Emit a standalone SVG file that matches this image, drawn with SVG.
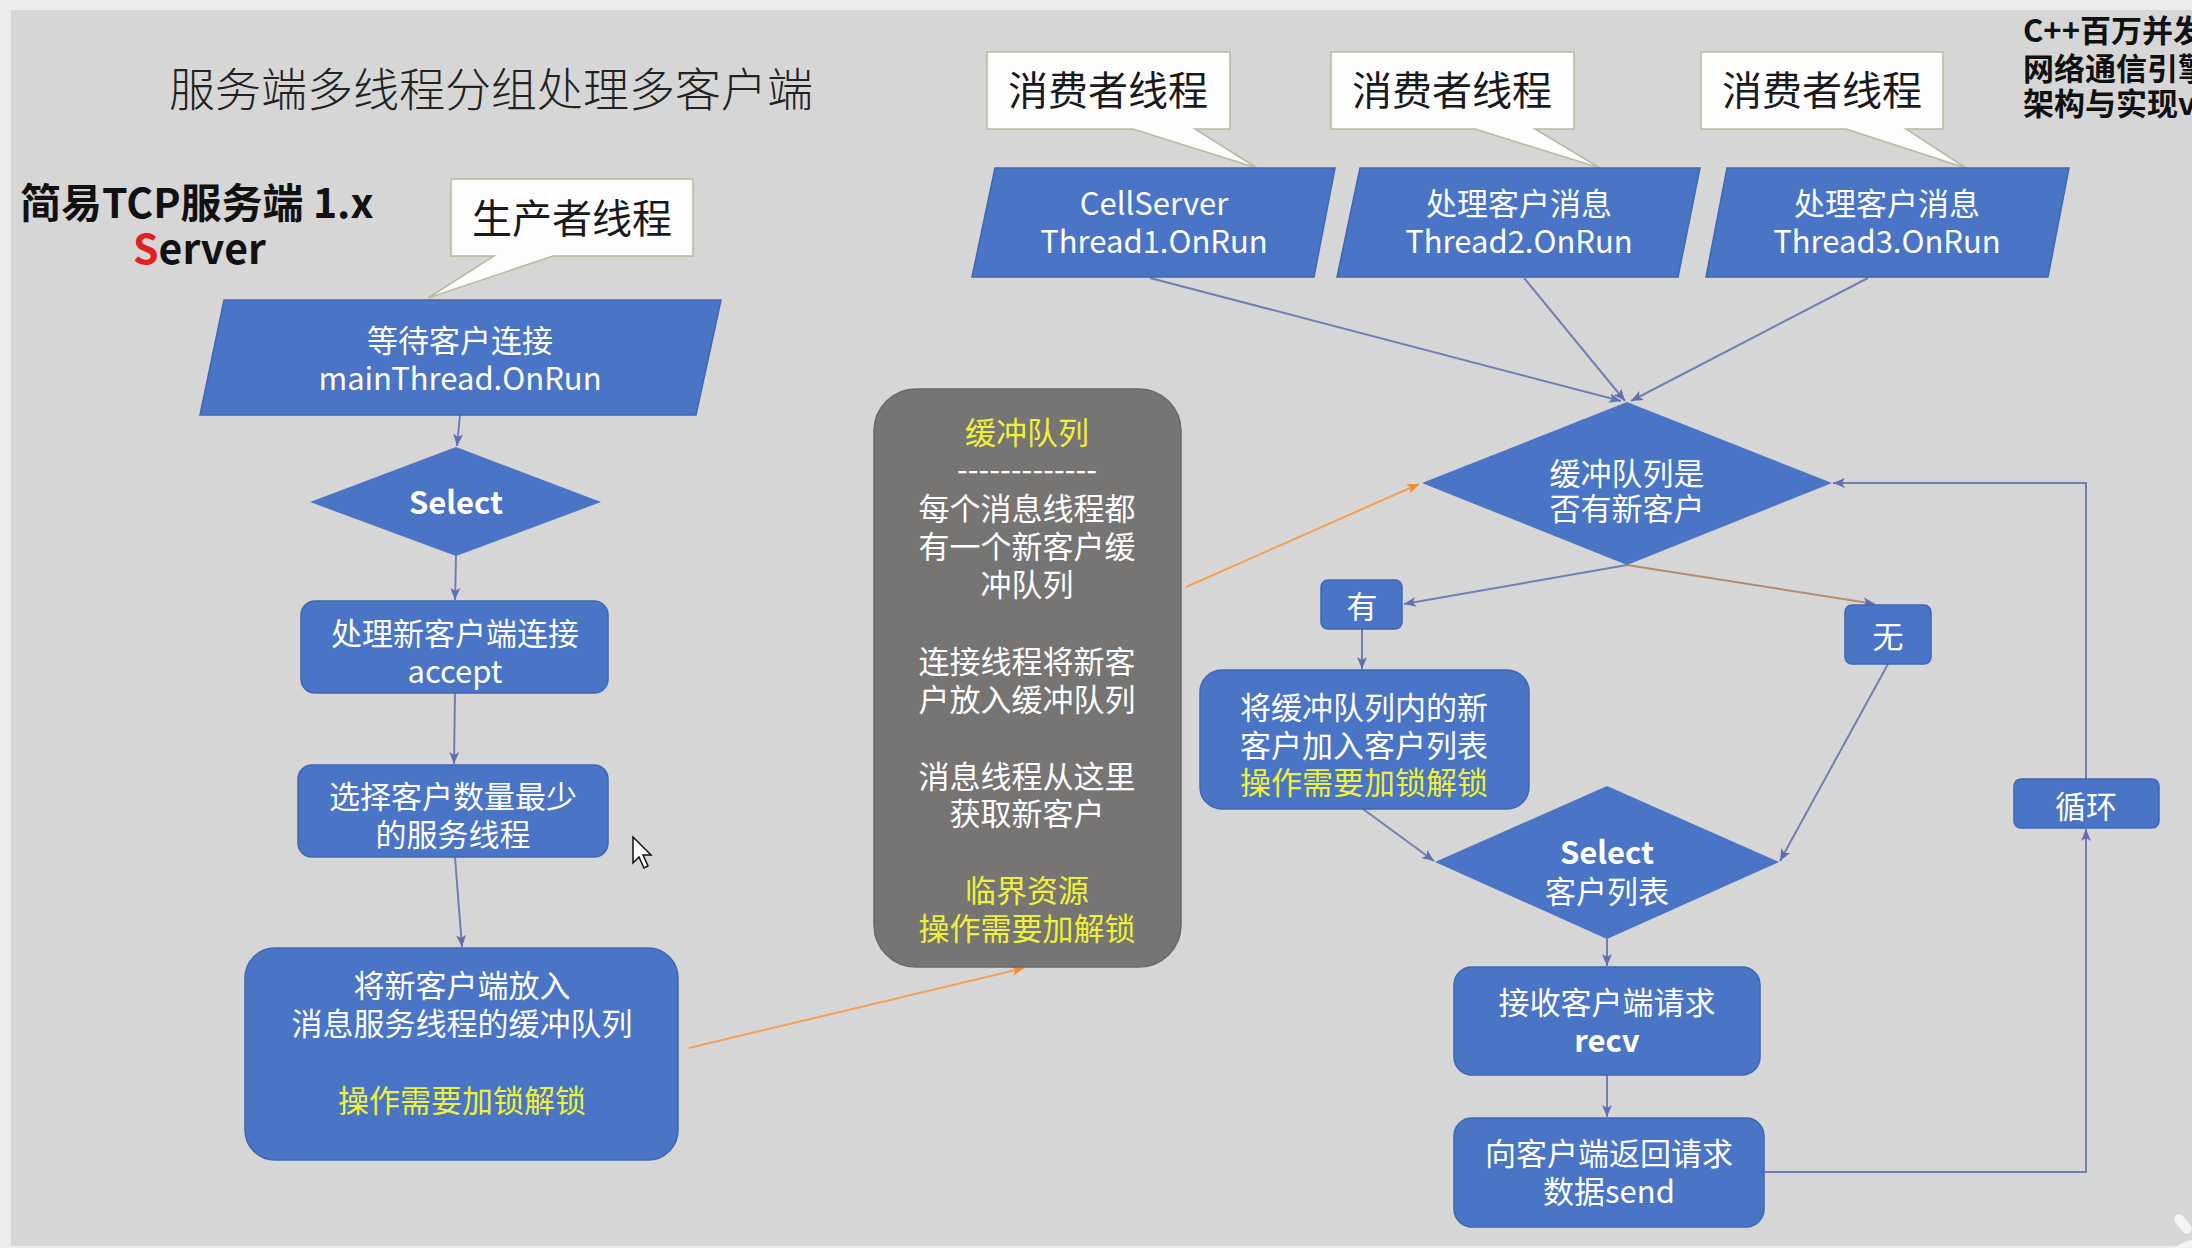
<svg xmlns="http://www.w3.org/2000/svg" width="2192" height="1248" viewBox="0 0 2192 1248">
<style>
text{font-family:"Noto Sans CJK SC","Noto Sans",sans-serif;}
.t{fill:#ffffff;font-size:31px;text-anchor:middle;dominant-baseline:central;}
.y{fill:#eef03a;}
.b{font-weight:bold;}
.blue{fill:#4a74c6;stroke:#3f66b3;stroke-width:1.5;}
.dia{fill:#4a74c6;stroke:none;}
.call{fill:#fdfdfd;stroke:#b2bc9e;stroke-width:1.5;}
.ct{fill:#1a1a1a;font-size:40px;text-anchor:middle;dominant-baseline:central;}
.ln{fill:none;stroke:#6f7fb3;stroke-width:2;}
.or{fill:none;stroke:#f0a050;stroke-width:2;}
</style>
<defs>
<marker id="ah" markerUnits="userSpaceOnUse" markerWidth="14" markerHeight="12" refX="12" refY="6" orient="auto">
<path d="M0,1 L12,6 L0,11 L3,6 Z" fill="#5f6fb0"/>
</marker>
<marker id="ao" markerUnits="userSpaceOnUse" markerWidth="14" markerHeight="12" refX="12" refY="6" orient="auto">
<path d="M0,1 L12,6 L0,11 L3,6 Z" fill="#f08a30"/>
</marker>
</defs>
<rect x="0" y="0" width="2192" height="1248" fill="#ebebeb"/>
<rect x="11" y="10" width="2181" height="1236" fill="#d7d6d6"/>

<text x="491" y="86" font-size="46" font-weight="300" fill="#222" text-anchor="middle" dominant-baseline="central">服务端多线程分组处理多客户端</text>
<text x="20" y="200" font-size="41" font-weight="bold" fill="#111" dominant-baseline="central">简易TCP服务端 1.x</text>
<text x="133" y="246" font-size="41" font-weight="bold" fill="#111" dominant-baseline="central"><tspan fill="#e02020">S</tspan>erver</text>
<g font-weight="bold" font-size="31" fill="#111">
<text x="2023" y="28" dominant-baseline="central">C++百万并发</text>
<text x="2023" y="66" dominant-baseline="central">网络通信引擎</text>
<text x="2023" y="101" dominant-baseline="central">架构与实现v</text>
</g>

<g id="connectors">
<line class="ln" x1="460" y1="415" x2="457" y2="446" marker-end="url(#ah)"/>
<line class="ln" x1="456" y1="556" x2="455" y2="600" marker-end="url(#ah)"/>
<line class="ln" x1="455" y1="693" x2="454" y2="764" marker-end="url(#ah)"/>
<line class="ln" x1="455" y1="857" x2="462" y2="947" marker-end="url(#ah)"/>
<line class="or" x1="689" y1="1048" x2="1024" y2="968" marker-end="url(#ao)"/>
<line class="or" x1="1186" y1="587" x2="1419" y2="484" marker-end="url(#ao)"/>
<line class="ln" x1="1150" y1="278" x2="1621" y2="401" marker-end="url(#ah)"/>
<line class="ln" x1="1524" y1="278" x2="1625" y2="401" marker-end="url(#ah)"/>
<line class="ln" x1="1868" y1="278" x2="1631" y2="401" marker-end="url(#ah)"/>
<line class="ln" x1="1627" y1="565" x2="1404" y2="604" marker-end="url(#ah)"/>
<line x1="1627" y1="565" x2="1875" y2="604" stroke="#b68a6e" stroke-width="2" marker-end="url(#ah)"/>
<line class="ln" x1="1362" y1="629" x2="1362" y2="669" marker-end="url(#ah)"/>
<line class="ln" x1="1363" y1="809" x2="1434" y2="861" marker-end="url(#ah)"/>
<line class="ln" x1="1888" y1="664" x2="1780" y2="861" marker-end="url(#ah)"/>
<line class="ln" x1="1607" y1="939" x2="1607" y2="966" marker-end="url(#ah)"/>
<line class="ln" x1="1607" y1="1075" x2="1607" y2="1117" marker-end="url(#ah)"/>
<polyline class="ln" points="1764,1172 2086,1172 2086,829" marker-end="url(#ah)"/>
<polyline class="ln" points="2086,779 2086,483 1833,483" marker-end="url(#ah)"/>
</g>

<g id="callout-producer">
<path class="call" d="M451,179 H693 V256 H553 L428,298 L494,256 H451 Z"/>
<text class="ct" x="572" y="216">生产者线程</text>
</g>
<g id="callout-consumer1">
<path class="call" d="M987,52 H1230 V129 H1195 L1257,168 L1133,129 H987 Z"/>
<text class="ct" x="1108" y="88">消费者线程</text>
</g>
<g id="callout-consumer2">
<path class="call" d="M1331,52 H1574 V129 H1535 L1600,168 L1475,129 H1331 Z"/>
<text class="ct" x="1452" y="88">消费者线程</text>
</g>
<g id="callout-consumer3">
<path class="call" d="M1701,52 H1943 V129 H1906 L1966,168 L1846,129 H1701 Z"/>
<text class="ct" x="1822" y="88">消费者线程</text>
</g>

<g id="main-thread">
<polygon class="blue" points="224,300 721,300 696,415 200,415"/>
<text class="t" x="460" y="338">等待客户连接</text>
<text class="t" x="460" y="376">mainThread.OnRun</text>
</g>
<g id="select1">
<polygon class="dia" points="456,447 601,502 456,556 310,502"/>
<text class="t b" x="456" y="500">Select</text>
</g>
<g id="accept">
<rect class="blue" x="301" y="601" width="307" height="92" rx="14"/>
<text class="t" x="455" y="631">处理新客户端连接</text>
<text class="t" x="455" y="669">accept</text>
</g>
<g id="choose">
<rect class="blue" x="298" y="765" width="310" height="92" rx="14"/>
<text class="t" x="453" y="794">选择客户数量最少</text>
<text class="t" x="453" y="832">的服务线程</text>
</g>
<g id="put-queue">
<rect class="blue" x="245" y="948" width="433" height="212" rx="30"/>
<text class="t" x="462" y="983">将新客户端放入</text>
<text class="t" x="462" y="1021">消息服务线程的缓冲队列</text>
<text class="t y" x="462" y="1098">操作需要加锁解锁</text>
</g>

<g id="buffer-queue">
<rect x="874" y="389" width="307" height="578" rx="42" fill="#777474" stroke="#6a6868" stroke-width="1.5"/>
<text class="t y" x="1027" y="430">缓冲队列</text>
<text class="t" x="1027" y="467">-------------</text>
<text class="t" x="1027" y="506">每个消息线程都</text>
<text class="t" x="1027" y="544">有一个新客户缓</text>
<text class="t" x="1027" y="582">冲队列</text>
<text class="t" x="1027" y="659">连接线程将新客</text>
<text class="t" x="1027" y="697">户放入缓冲队列</text>
<text class="t" x="1027" y="774">消息线程从这里</text>
<text class="t" x="1027" y="811">获取新客户</text>
<text class="t y" x="1027" y="888">临界资源</text>
<text class="t y" x="1027" y="926">操作需要加解锁</text>
</g>

<g id="thread1">
<polygon class="blue" points="995,168 1335,168 1314,277 972,277"/>
<text class="t" x="1154" y="201">CellServer</text>
<text class="t" x="1154" y="239">Thread1.OnRun</text>
</g>
<g id="thread2">
<polygon class="blue" points="1360,168 1700,168 1678,277 1337,277"/>
<text class="t" x="1519" y="201">处理客户消息</text>
<text class="t" x="1519" y="239">Thread2.OnRun</text>
</g>
<g id="thread3">
<polygon class="blue" points="1727,168 2069,168 2048,277 1706,277"/>
<text class="t" x="1887" y="201">处理客户消息</text>
<text class="t" x="1887" y="239">Thread3.OnRun</text>
</g>

<g id="has-new">
<polygon class="dia" points="1627,402 1832,483 1627,565 1422,483"/>
<text class="t" x="1627" y="471">缓冲队列是</text>
<text class="t" x="1627" y="506">否有新客户</text>
</g>
<g id="yes">
<rect class="blue" x="1321" y="580" width="81" height="49" rx="7"/>
<text class="t" x="1362" y="604">有</text>
</g>
<g id="no">
<rect class="blue" x="1845" y="605" width="86" height="59" rx="7"/>
<text class="t" x="1888" y="634">无</text>
</g>
<g id="add-clients">
<rect class="blue" x="1200" y="670" width="329" height="139" rx="22"/>
<text class="t" x="1364" y="705">将缓冲队列内的新</text>
<text class="t" x="1364" y="743">客户加入客户列表</text>
<text class="t y" x="1364" y="780">操作需要加锁解锁</text>
</g>
<g id="select2">
<polygon class="dia" points="1607,786 1779,862 1607,939 1435,862"/>
<text class="t b" x="1607" y="850">Select</text>
<text class="t" x="1607" y="889">客户列表</text>
</g>
<g id="recv">
<rect class="blue" x="1454" y="967" width="306" height="108" rx="18"/>
<text class="t" x="1607" y="1000">接收客户端请求</text>
<text class="t b" x="1607" y="1038">recv</text>
</g>
<g id="send">
<rect class="blue" x="1454" y="1118" width="310" height="109" rx="18"/>
<text class="t" x="1609" y="1151">向客户端返回请求</text>
<text class="t" x="1609" y="1189">数据send</text>
</g>
<g id="loop">
<rect class="blue" x="2014" y="779" width="145" height="49" rx="7"/>
<text class="t" x="2086" y="804">循环</text>
</g>

<path d="M633,837 L633,863 L639,857 L644,868 L648,866 L643,855 L651,855 Z" fill="#ffffff" stroke="#111" stroke-width="1.5"/>
<circle cx="2205" cy="1290" r="52" fill="#f4f4f4"/>
<rect x="2178" y="1213" width="10" height="22" rx="5" fill="#f4f4f4" transform="rotate(-40 2183 1224)"/>
</svg>
